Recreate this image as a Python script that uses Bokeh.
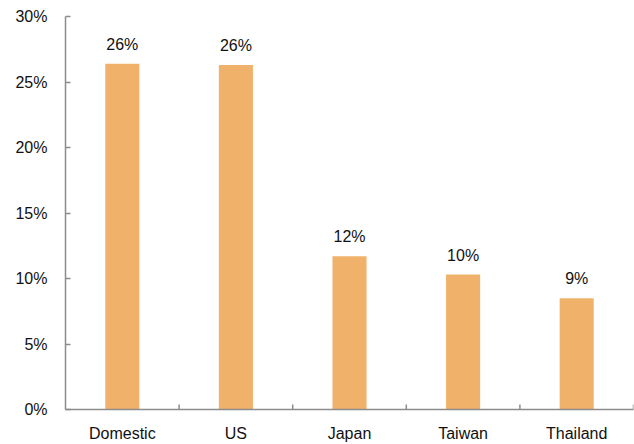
import math
from bokeh.plotting import figure
from bokeh.models import ColumnDataSource, FactorRange, Range1d, FixedTicker
from bokeh.transform import dodge
from bokeh.core.properties import value
from bokeh.embed import file_html
from bokeh.resources import INLINE

categories = ["Domestic", "US", "Japan", "Taiwan", "Thailand"]
shares = [26.4, 26.3, 11.7, 10.3, 8.5]
share_labels = ["26%", "26%", "12%", "10%", "9%"]
y_ticks = [0, 5, 10, 15, 20, 25, 30]
y_tick_labels = ["0%", "5%", "10%", "15%", "20%", "25%", "30%"]

FONT = "Liberation Sans"
AXIS_COLOR = "#8c8c8c"
BAR_COLOR = "#F0B26B"
TEXT_COLOR = "#111111"

src = ColumnDataSource(dict(cat=categories, v=shares, lab=share_labels,
                            zero=[0] * len(categories)))

p = figure(width=634, height=444, x_range=FactorRange(*categories),
           y_range=Range1d(0, 30), output_backend="svg", toolbar_location=None,
           min_border_left=65, min_border_right=1, min_border_top=16, min_border_bottom=34)
p.outline_line_color = None
p.xgrid.grid_line_color = None
p.ygrid.grid_line_color = None
p.x_range.range_padding = 0

p.vbar(x="cat", top="v", width=0.3, source=src, color=BAR_COLOR, line_color=None)

p.text(x="cat", y="v", text="lab", source=src, y_offset=-11,
       text_align="center", text_baseline="bottom",
       text_font=value(FONT), text_font_size="16px", text_color=TEXT_COLOR)

# category boundary ticks on x axis (pointing up inside the plot)
p.ray(x=dodge("cat", 0.5, range=p.x_range), y="zero", length=5, length_units="screen",
      angle=math.pi / 2, source=src, line_color=AXIS_COLOR, line_width=1.5)

ya = p.yaxis[0]
ya.ticker = FixedTicker(ticks=y_ticks)
ya.major_label_overrides = {t: l for t, l in zip(y_ticks, y_tick_labels)}
ya.major_tick_in = 5
ya.major_tick_out = 0
ya.minor_tick_line_color = None
ya.axis_line_color = AXIS_COLOR
ya.axis_line_width = 1.5
ya.major_tick_line_color = AXIS_COLOR
ya.major_tick_line_width = 1.5
ya.major_label_text_font = FONT
ya.major_label_text_font_size = "16px"
ya.major_label_text_color = TEXT_COLOR
ya.major_label_standoff = 18

xa = p.xaxis[0]
xa.major_tick_line_color = None
xa.axis_line_color = AXIS_COLOR
xa.axis_line_width = 1.5
xa.major_label_text_font = FONT
xa.major_label_text_font_size = "16px"
xa.major_label_text_color = TEXT_COLOR
xa.major_label_standoff = 9

open("out.html", "w").write(file_html(p, INLINE))
